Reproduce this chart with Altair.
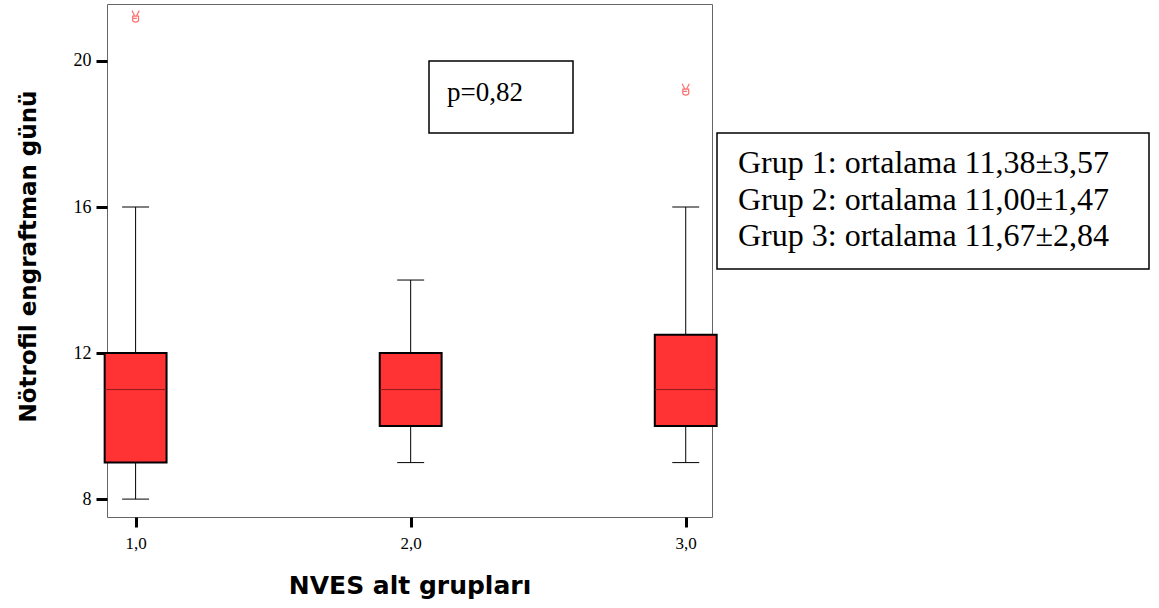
import altair as alt
import pandas as pd

groups = [1, 2, 3]
q1 = [9, 10, 10]
q3 = [12, 12, 12.5]
median = [11, 11, 11]
low = [8, 9, 9]
high = [16, 14, 16]
out_x = [1, 3]
out_y = [21.2, 19.2]
x_ticks = [1, 2, 3]
y_ticks = [8, 12, 16, 20]
p_text = "p=0,82"
legend_lines = [
    "Grup 1: ortalama 11,38±3,57",
    "Grup 2: ortalama 11,00±1,47",
    "Grup 3: ortalama 11,67±2,84",
]

BOX_HALF = 0.1125
CAP_HALF = 0.049
HAND = ("M -0.55 -1 L -0.12 -0.15 M 0.55 -1 L 0.12 -0.15 "
        "M -0.45 -0.15 L 0.45 -0.15 L 0.45 0.55 Q 0 1 -0.45 0.55 Z "
        "M -0.45 0.2 L 0.2 0.2")

df = pd.DataFrame({"g": groups, "q1": q1, "q3": q3, "med": median, "lo": low, "hi": high})
df["bl"] = df["g"] - BOX_HALF
df["br"] = df["g"] + BOX_HALF
df["cl"] = df["g"] - CAP_HALF
df["cr"] = df["g"] + CAP_HALF
outs = pd.DataFrame({"g": out_x, "v": out_y})

xs = alt.Scale(domain=[0.896, 3.0955], nice=False, zero=False)
ys = alt.Scale(domain=[7.51, 21.56], nice=False, zero=False)

TITLE_FONT = "DejaVu Sans"
xaxis = alt.Axis(
    values=x_ticks, labelExpr="replace(format(datum.value, '.1f'), '.', ',')",
    title="NVES alt grupları", titleFont=TITLE_FONT, titleFontSize=25,
    titleFontWeight="bold", titleY=68, titleBaseline="middle", titleColor="black",
    labelFont="Liberation Serif", labelFontSize=17, labelColor="black", labelPadding=8,
    tickColor="black", tickWidth=3, tickSize=10, domain=False, grid=False,
)
yaxis = alt.Axis(
    values=y_ticks, title="Nötrofil engraftman günü", titleFont=TITLE_FONT,
    titleFontSize=23, titleFontWeight="bold", titleX=-79, titleY=252,
    titleBaseline="middle", titleAngle=-90, titleColor="black",
    labelFont="Liberation Serif", labelFontSize=18, labelColor="black", labelPadding=5,
    tickColor="black", tickWidth=3, tickSize=11, domain=False, grid=False,
)

base = alt.Chart(df)
whisk = base.mark_rule(color="black", strokeWidth=1).encode(
    x=alt.X("g:Q", scale=xs, axis=xaxis), y=alt.Y("lo:Q", scale=ys, axis=yaxis), y2="hi:Q")
cap_lo = base.mark_rule(color="black", strokeWidth=1).encode(
    x=alt.X("cl:Q", scale=xs), x2="cr:Q", y=alt.Y("lo:Q", scale=ys))
cap_hi = base.mark_rule(color="black", strokeWidth=1).encode(
    x=alt.X("cl:Q", scale=xs), x2="cr:Q", y=alt.Y("hi:Q", scale=ys))
box = base.mark_rect(fill="#ff3333", stroke="black", strokeWidth=2).encode(
    x=alt.X("bl:Q", scale=xs), x2="br:Q", y=alt.Y("q1:Q", scale=ys), y2="q3:Q")
med = base.mark_rule(color="#8b1a1a", strokeWidth=1).encode(
    x=alt.X("bl:Q", scale=xs), x2="br:Q", y=alt.Y("med:Q", scale=ys))
outl = alt.Chart(outs).mark_point(shape=HAND, size=170, filled=False, stroke="#ff7070",
                                    strokeWidth=1.2, opacity=1).encode(
    x=alt.X("g:Q", scale=xs), y=alt.Y("v:Q", scale=ys))

one = pd.DataFrame({"a": [0]})
pbox = alt.Chart(one).mark_rect(fill="white", stroke="black", strokeWidth=1.5).encode(
    x=alt.value(322), x2=alt.value(466), y=alt.value(57), y2=alt.value(129))
ptext = alt.Chart(one).mark_text(text=p_text, font="Liberation Serif", fontSize=27,
                                  align="left", baseline="middle", color="black").encode(
    x=alt.value(340), y=alt.value(89))
lbox = alt.Chart(one).mark_rect(fill="white", stroke="black", strokeWidth=1.5).encode(
    x=alt.value(610), x2=alt.value(1042), y=alt.value(129), y2=alt.value(265))

layers = [whisk, cap_lo, cap_hi, box, med, outl, pbox, ptext, lbox]
for i, line in enumerate(legend_lines):
    layers.append(
        alt.Chart(pd.DataFrame({"t": [line]})).mark_text(
            font="Liberation Serif", fontSize=32, align="left", baseline="middle",
            color="black").encode(x=alt.value(631), y=alt.value(159 + 36.5 * i), text="t:N")
    )

chart = alt.layer(*layers).properties(
    width=605, height=513, background="white",
    autosize=alt.AutoSizeParams(type="none"),
    padding={"left": 107, "top": 4, "right": 447, "bottom": 91},
).configure_view(stroke="#666666", strokeWidth=1)

chart.save("out.html", embed_options={"renderer": "svg", "actions": False})
